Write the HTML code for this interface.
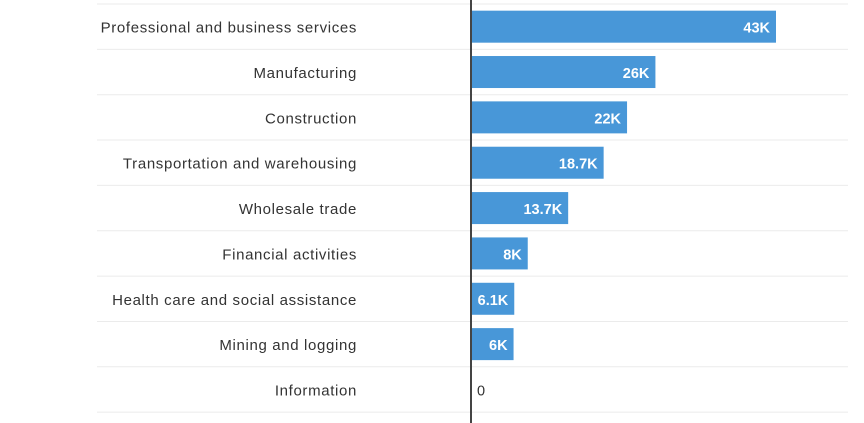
<!DOCTYPE html>
<html><head><style>
body{margin:0;background:#fff;font-family:"Liberation Sans",sans-serif;}
svg{display:block}
</style></head><body>
<svg id="c" width="864" height="423"></svg>
<script>
const categories=["Professional and business services","Manufacturing","Construction","Transportation and warehousing","Wholesale trade","Financial activities","Health care and social assistance","Mining and logging","Information"];
const values=[43,26,22,18.7,13.7,8,6.1,6,0];
const valueLabels=["43K","26K","22K","18.7K","13.7K","8K","6.1K","6K","0"];
const svgEl=document.getElementById('c');
const NS='http://www.w3.org/2000/svg';
const x0=471, kx=(776-471)/43, topY=4, rowH=45.35;
const xs=v=>x0+v*kx;
const ys=i=>topY+i*rowH;
function mk(t,a){const e=document.createElementNS(NS,t);for(const k in a)e.setAttribute(k,a[k]);svgEl.appendChild(e);return e;}
for(let i=0;i<=categories.length;i++){
  const l=mk('line',{x1:97,x2:848,y1:ys(i),y2:ys(i),stroke:'#ebebeb','stroke-width':1});
  
  
}
categories.forEach((c,i)=>{
  const cy=ys(i)+rowH/2;
  const t=mk('text',{x:357,y:cy+6,'text-anchor':'end','font-size':15,'letter-spacing':'0.65px',fill:'#333'});
  t.textContent=c;
  
  
  const v=values[i];
  if(v>0){
    const r=mk('rect',{x:x0,y:cy-16,width:xs(v)-x0,height:32,fill:'#4897d8'});
    
    
    const vt=mk('text',{x:xs(v)-6,y:cy+6,'text-anchor':'end','font-size':14.5,'font-weight':'bold',fill:'#fff'});
    vt.textContent=valueLabels[i];
    
    
  } else {
    const vt=mk('text',{x:x0+6,y:cy+6,'font-size':14.5,fill:'#333'});
    vt.textContent=valueLabels[i];
    
    
  }
});
const ax=mk('line',{x1:x0,x2:x0,y1:0,y2:423,stroke:'#444','stroke-width':2});


</script>
</body></html>
